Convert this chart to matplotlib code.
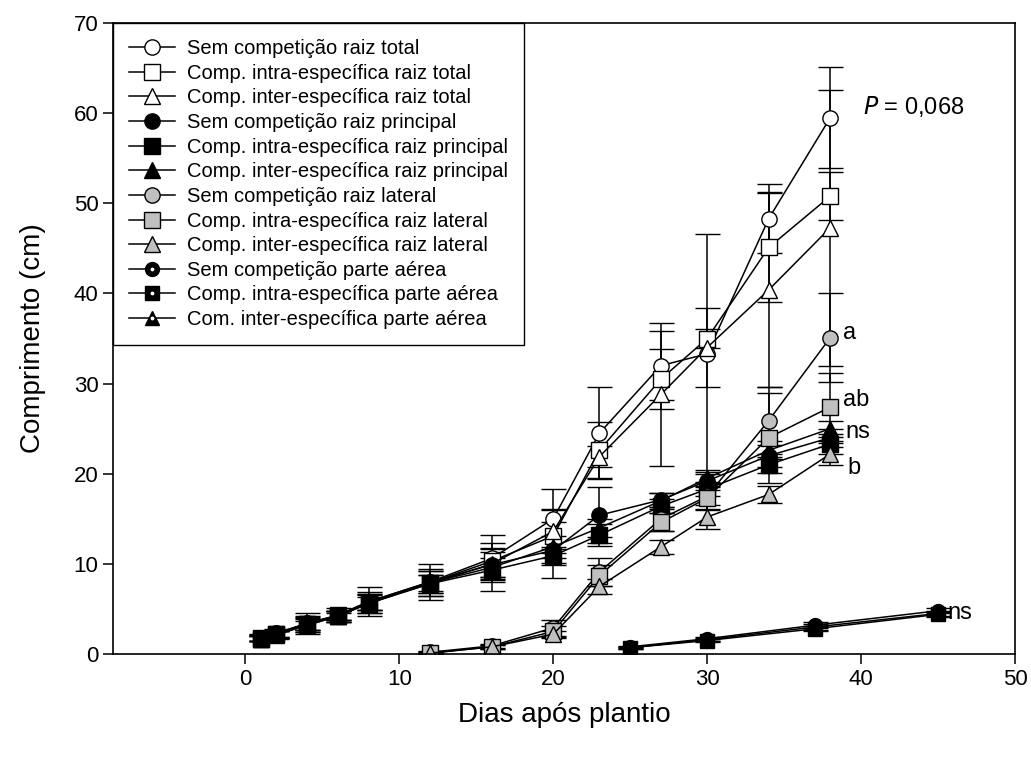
import numpy as np
import matplotlib
matplotlib.use("Agg")
import matplotlib.pyplot as plt

plt.rcParams['font.family'] = ['Liberation Sans', 'DejaVu Sans']

# dias de coleta
x_raiz = [1, 2, 4, 6, 8, 12, 16, 20, 23, 27, 30, 34, 38]
x_lat = [12, 16, 20, 23, 27, 30, 34, 38]
x_aer = [25, 30, 37, 45]

# raiz total (cm)
sem_total = [1.8, 2.3, 3.4, 4.3, 5.8, 8.0, 10.6, 15.0, 24.5, 32.0, 33.3, 48.3, 59.5]
sem_total_err = [0.4, 0.5, 1.2, 0.8, 1.6, 2.0, 2.6, 3.3, 5.1, 3.8, 13.3, 3.8, 5.6]
intra_total = [1.8, 2.2, 3.3, 4.2, 5.7, 7.9, 10.3, 13.1, 22.6, 30.5, 35.0, 45.1, 50.8]
intra_total_err = [0.3, 0.4, 0.9, 0.6, 1.2, 1.5, 2.0, 3.0, 3.1, 3.3, 1.0, 6.0, 2.7]
inter_total = [1.7, 2.1, 3.2, 4.2, 5.6, 7.8, 10.0, 13.6, 21.9, 28.8, 34.0, 40.4, 47.3]
inter_total_err = [0.3, 0.4, 0.8, 0.6, 1.1, 1.4, 1.8, 2.4, 1.2, 7.9, 4.4, 10.8, 15.3]

# raiz principal (cm)
sem_princ = [1.8, 2.3, 3.4, 4.3, 5.8, 8.0, 9.9, 11.5, 15.4, 17.1, 19.2, 22.0, 24.0]
sem_princ_err = [0.3, 0.4, 0.7, 0.5, 0.9, 1.2, 1.4, 3.1, 3.1, 0.8, 1.0, 1.2, 1.0]
intra_princ = [1.7, 2.2, 3.3, 4.3, 5.7, 7.8, 9.3, 10.9, 13.2, 16.4, 18.3, 21.0, 23.3]
intra_princ_err = [0.3, 0.4, 0.6, 0.5, 0.8, 1.0, 2.3, 1.0, 1.2, 0.8, 0.8, 0.9, 1.1]
inter_princ = [1.7, 2.2, 3.2, 4.2, 5.6, 7.9, 9.6, 11.9, 14.0, 17.0, 19.5, 22.6, 25.0]
inter_princ_err = [0.3, 0.3, 0.5, 0.4, 0.7, 0.9, 1.0, 1.2, 1.0, 0.9, 0.9, 1.0, 0.9]

# raiz lateral (cm)
sem_lat = [0.2, 0.9, 2.9, 9.1, 15.0, 17.5, 25.9, 35.1]
sem_lat_err = [0.1, 0.2, 0.9, 1.5, 1.3, 1.5, 3.7, 4.9]
intra_lat = [0.1, 0.8, 2.5, 8.7, 14.6, 17.3, 24.0, 27.4]
intra_lat_err = [0.1, 0.2, 0.6, 1.2, 1.0, 1.2, 5.0, 3.8]
inter_lat = [0.1, 0.8, 2.2, 7.5, 11.9, 15.2, 17.7, 22.2]
inter_lat_err = [0.1, 0.2, 0.4, 0.8, 0.8, 1.3, 0.9, 1.2]

# parte aérea (cm)
sem_aer = [0.8, 1.7, 3.2, 4.8]
intra_aer = [0.7, 1.5, 2.8, 4.4]
inter_aer = [0.7, 1.6, 3.0, 4.5]
aer_err = [0.1, 0.2, 0.3, 0.3]

GRAY = '#C0C0C0'

fig = plt.figure(figsize=(10.31, 7.59), dpi=100)
ax = fig.add_axes([0.1096, 0.1383, 0.8749, 0.8314])

handles, labels = [], []

def serie(x, y, err, marker, face, ms=11):
    c = ax.errorbar(x, y, yerr=err, color='black', lw=1.1, marker=marker, ms=ms,
                    mfc=face, mec='black', mew=1.0, capsize=9, elinewidth=1.1,
                    capthick=1.1)
    return c[0]

raiz = [
    (x_raiz, sem_total, sem_total_err, 'o', 'white', 'Sem competição raiz total'),
    (x_raiz, intra_total, intra_total_err, 's', 'white', 'Comp. intra-específica raiz total'),
    (x_raiz, inter_total, inter_total_err, '^', 'white', 'Comp. inter-específica raiz total'),
    (x_raiz, sem_princ, sem_princ_err, 'o', 'black', 'Sem competição raiz principal'),
    (x_raiz, intra_princ, intra_princ_err, 's', 'black', 'Comp. intra-específica raiz principal'),
    (x_raiz, inter_princ, inter_princ_err, '^', 'black', 'Comp. inter-específica raiz principal'),
    (x_lat, sem_lat, sem_lat_err, 'o', GRAY, 'Sem competição raiz lateral'),
    (x_lat, intra_lat, intra_lat_err, 's', GRAY, 'Comp. intra-específica raiz lateral'),
    (x_lat, inter_lat, inter_lat_err, '^', GRAY, 'Comp. inter-específica raiz lateral'),
]
for x, y, e, m, f, lab in raiz:
    handles.append(serie(x, y, e, m, f, ms=12 if m == '^' else 11))
    labels.append(lab)

aer_labels = ['Sem competição parte aérea', 'Comp. intra-específica parte aérea',
              'Com. inter-específica parte aérea']
for y, m, lab in zip([sem_aer, intra_aer, inter_aer], ['o', 's', '^'], aer_labels):
    base = serie(x_aer, y, aer_err, m, 'black', ms=10)
    dot, = ax.plot(x_aer, y, ls='none', marker='o', ms=3.5, mfc='white', mec='black', mew=0.7)
    handles.append((base, dot))
    labels.append(lab)

leg = ax.legend(handles, labels, loc='upper left', bbox_to_anchor=(0, 1), borderaxespad=0,
                fontsize=14.5, frameon=True, fancybox=False, edgecolor='black', framealpha=1,
                handlelength=2.3, handletextpad=0.55, labelspacing=0.28, borderpad=0.8)
leg.get_frame().set_linewidth(1.0)

ax.text(40.1, 60.7, r'$\it{P}$ = 0,068', fontsize=17, va='center', ha='left')
ax.text(38.8, 35.6, 'a', fontsize=17, va='center', ha='left')
ax.text(38.8, 28.2, 'ab', fontsize=17, va='center', ha='left')
ax.text(39.0, 24.6, 'ns', fontsize=17, va='center', ha='left')
ax.text(39.1, 20.6, 'b', fontsize=17, va='center', ha='left')
ax.text(45.6, 4.5, 'ns', fontsize=17, va='center', ha='left')

ax.set_xlim(-8.6, 50)
ax.set_ylim(0, 70)
ax.set_xticks(range(0, 51, 10))
ax.set_yticks(range(0, 71, 10))
ax.tick_params(direction='out', length=7, width=1.1, labelsize=16)
for s in ax.spines.values():
    s.set_linewidth(1.2)
ax.set_xlabel('Dias após plantio', fontsize=20, labelpad=9)
ax.set_ylabel('Comprimento (cm)', fontsize=20, labelpad=20)

fig.savefig('out.png', dpi=100)
